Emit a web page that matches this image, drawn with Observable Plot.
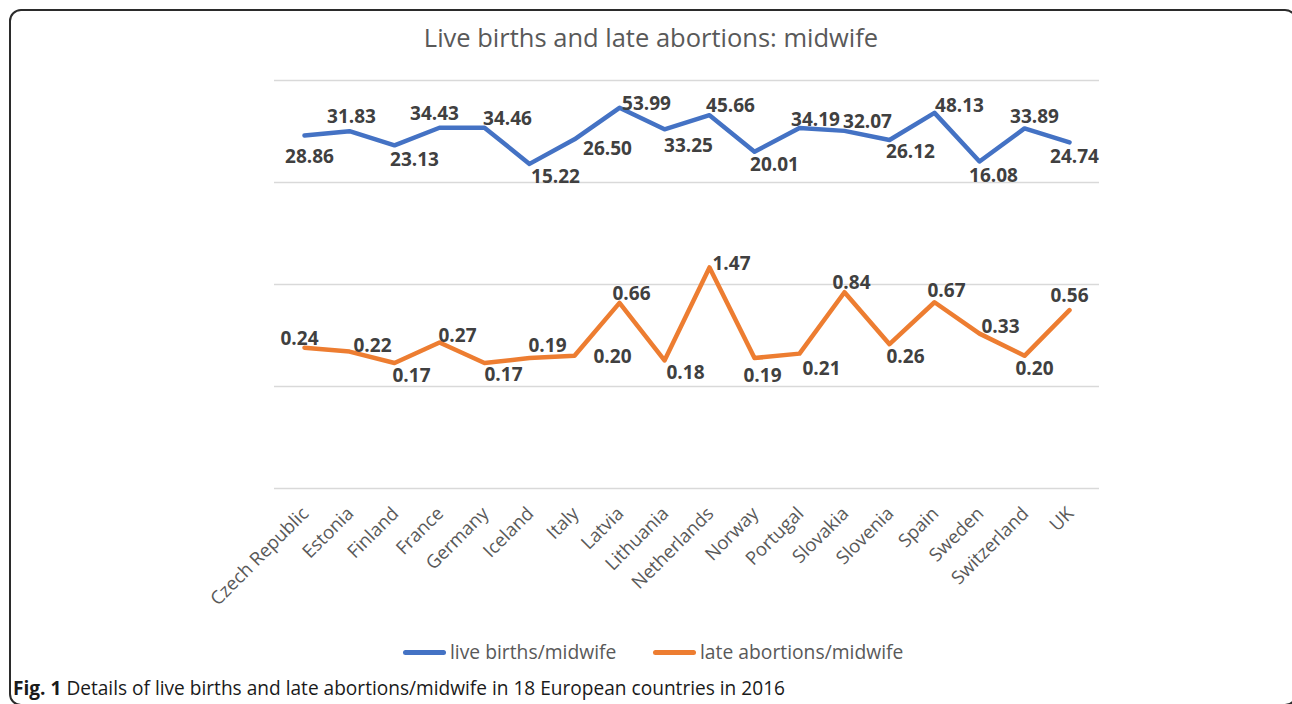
<!DOCTYPE html>
<html><head><meta charset="utf-8">
<script src="https://cdn.jsdelivr.net/npm/d3@7"></script>
<script src="https://cdn.jsdelivr.net/npm/@observablehq/plot@0.6"></script>
<style>
body{margin:0;background:#fff;font-family:"Open Sans",sans-serif;}
#wrap{position:relative;width:1292px;height:704px;overflow:hidden;background:#fff;}
#border{position:absolute;left:9px;top:9px;width:1288px;height:697px;border:2px solid #2b2b2b;border-radius:12px;box-sizing:border-box;}
#title{position:absolute;left:9px;width:1284px;top:21px;text-align:center;font-size:25.5px;line-height:32px;color:#595959;}
#chart{position:absolute;left:0;top:0;}
.lg{position:absolute;top:638px;font-size:19.3px;line-height:28px;color:#595959;white-space:nowrap;}
.sw{position:absolute;height:5px;width:43px;border-radius:3px;top:650px;}
#caption{position:absolute;left:13px;top:676px;font-size:19.1px;line-height:24px;color:#1a1a1a;white-space:nowrap;}
</style></head>
<body>
<div id="wrap">
  <div id="border"></div>
  <div id="title">Live births and late abortions: midwife</div>
  <div id="chart"></div>
  <div class="sw" style="left:403px;background:#4472C4"></div>
  <div class="lg" style="left:450px">live births/midwife</div>
  <div class="sw" style="left:653px;background:#ED7D31"></div>
  <div class="lg" style="left:700px">late abortions/midwife</div>
  <div id="caption"><b>Fig. 1</b> Details of live births and late abortions/midwife in 18 European countries in 2016</div>
</div>
<script>
const countries = ["Czech Republic","Estonia","Finland","France","Germany","Iceland","Italy","Latvia","Lithuania","Netherlands","Norway","Portugal","Slovakia","Slovenia","Spain","Sweden","Switzerland","UK"];
const liveBirths = [28.86,31.83,23.13,34.43,34.46,15.22,26.50,53.99,33.25,45.66,20.01,34.19,32.07,26.12,48.13,16.08,33.89,24.74];
const lateAbortions = [0.24,0.22,0.17,0.27,0.17,0.19,0.20,0.66,0.18,1.47,0.19,0.21,0.84,0.26,0.67,0.33,0.20,0.56];
const gridValues = [0.01,0.1,1,10,100];

// label offsets (px) relative to each point, as in the reference
const blueDx = [5,2,20,-5,23,26,33,27,24,21,20,16,23,21,25,14,10,5];
const blueDy = [21,-14,15,-14,-9,13,10,-4,17,-9,13,-8,-9,12,-7,14,-12,15];
const orangeDx = [-5,23,17,18,19,18,38,12,21,22,8,22,7,16,12,21,10,0];
const orangeDy = [-9,-6,13,-7,12,-12,1,-9,12,-4,18,15,-9,13,-11,-7,13,-14];

const blue = countries.map((c,i)=>({country:c, value:liveBirths[i]}));
const orange = countries.map((c,i)=>({country:c, value:lateAbortions[i]}));

const lblStyle = {fontFamily:"Open Sans", fontWeight:"bold", fontSize:19, fill:"#404040", textAnchor:"middle", lineAnchor:"middle"};

const labelMarks = [];
blue.forEach((d,i)=>labelMarks.push(Plot.text([d],{x:"country",y:"value",text:d=>d.value.toFixed(2),dx:blueDx[i],dy:blueDy[i],...lblStyle})));
orange.forEach((d,i)=>labelMarks.push(Plot.text([d],{x:"country",y:"value",text:d=>d.value.toFixed(2),dx:orangeDx[i],dy:orangeDy[i],...lblStyle})));

const chart = Plot.plot({
  width:1292, height:620,
  marginTop:80, marginBottom:132, marginLeft:274, marginRight:193,
  style:{background:"transparent", overflow:"visible"},
  x:{type:"point", domain:countries, padding:0.5, axis:null},
  y:{type:"log", domain:[0.01,100], axis:null},
  marks:[
    Plot.ruleY(gridValues,{stroke:"#d9d9d9", strokeWidth:1.3}),
    Plot.line(blue,{x:"country",y:"value",stroke:"#4472C4",strokeWidth:4.5,strokeLinejoin:"round",strokeLinecap:"round"}),
    Plot.line(orange,{x:"country",y:"value",stroke:"#ED7D31",strokeWidth:4.5,strokeLinejoin:"round",strokeLinecap:"round"}),
    ...labelMarks,
    Plot.text(countries,{x:d=>d, frameAnchor:"bottom", text:d=>d, rotate:-45, textAnchor:"end", lineAnchor:"middle", dx:1, dy:22, fontFamily:"Open Sans", fontSize:18.5, fill:"#595959"})
  ]
});
document.getElementById("chart").appendChild(chart);
</script>
</body></html>
